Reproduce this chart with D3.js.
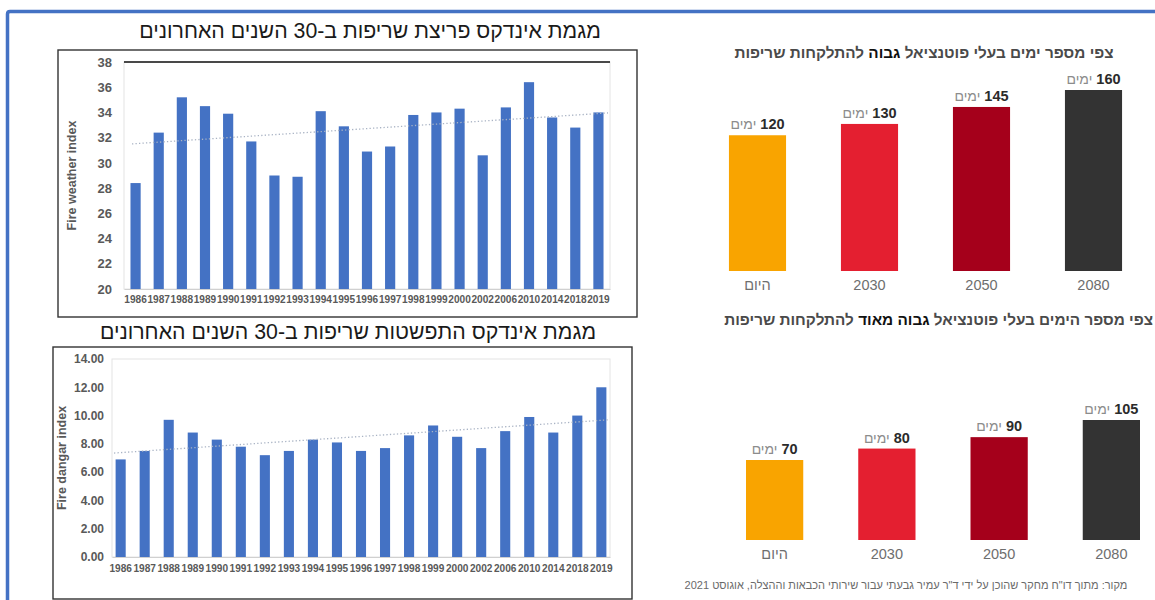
<!DOCTYPE html>
<html>
<head>
<meta charset="utf-8">
<script src="https://cdn.jsdelivr.net/npm/d3@7"></script>
<style>
  html, body { margin: 0; padding: 0; background: #fff; }
  svg { display: block; }
</style>
</head>
<body>
<svg id="board" width="1155" height="600"></svg>
<script>
// ---- data -------------------------------------------------------------
const years = ['1986','1987','1988','1989','1990','1991','1992','1993','1994','1995','1996',
               '1997','1998','1999','2000','2002','2006','2010','2014','2018','2019'];
const fireWeatherIndex = [28.4,32.4,35.2,34.5,33.9,31.7,29.0,28.9,34.1,32.9,30.9,
                          31.3,33.8,34.0,34.3,30.6,34.4,36.4,33.6,32.8,34.0];
const fireDangerIndex  = [6.9,7.5,9.7,8.8,8.3,7.8,7.2,7.5,8.3,8.1,7.5,
                          7.7,8.6,9.3,8.5,7.7,8.9,9.9,8.8,10.0,12.0];
const weatherTicks = [20,22,24,26,28,30,32,34,36,38];
const dangerTicks  = [0,2,4,6,8,10,12,14];

const scenarios    = ['היום','2030','2050','2080'];
const highDays     = [120,130,145,160];
const veryHighDays = [70,80,90,105];
const daysWord     = 'ימים';
const scenarioColors = ['#F9A400','#E41F30','#A5001B','#333333'];

// ---- setup ------------------------------------------------------------
const svg = d3.select('#board');
const HEB = "'Liberation Sans', Arial, 'DejaVu Sans', sans-serif";

// blue page frame (top and left edges)
svg.append('path')
  .attr('d', 'M7.5,600 V14 Q7.5,11.5 10,11.5 H1155')
  .attr('fill', 'none').attr('stroke', '#4472C4').attr('stroke-width', 3.5);

function linearFit(vals) {
  const n = vals.length, mx = (n - 1) / 2, my = d3.mean(vals);
  let sxy = 0, sxx = 0;
  vals.forEach((v, i) => { sxy += (i - mx) * (v - my); sxx += (i - mx) * (i - mx); });
  const b = sxy / sxx;
  return i => my + b * (i - mx);
}

// ---- yearly index column chart ---------------------------------------
function yearChart(o) {
  const g = svg.append('g');
  g.append('rect').attr('x', o.box[0]).attr('y', o.box[1])
    .attr('width', o.box[2] - o.box[0]).attr('height', o.box[3] - o.box[1])
    .attr('fill', '#fff').attr('stroke', '#333').attr('stroke-width', 1.4);

  g.append('text').attr('x', o.titleX).attr('y', o.titleY)
    .attr('text-anchor', 'middle').attr('direction', 'rtl')
    .attr('font-family', HEB).attr('font-size', 21.3).attr('fill', '#1a1a1a')
    .text(o.title);

  const x = d3.scaleBand().domain(years).range([o.plot[0], o.plot[1]])
    .paddingInner(o.padInner).paddingOuter(o.padOuter);
  const y = d3.scaleLinear().domain(o.domain).range([o.plot[3], o.plot[2]]);

  // plot area outline
  g.append('rect').attr('x', o.plot[0]).attr('y', o.plot[2])
    .attr('width', o.plot[1] - o.plot[0]).attr('height', o.plot[3] - o.plot[2])
    .attr('fill', 'none').attr('stroke', '#e4e4e4').attr('stroke-width', 1);
  if (o.darkTop) {
    g.append('line').attr('x1', o.plot[0]).attr('x2', o.plot[1])
      .attr('y1', o.plot[2]).attr('y2', o.plot[2])
      .attr('stroke', '#111').attr('stroke-width', 1.5);
  }

  g.selectAll('rect.bar').data(o.values).join('rect').attr('class', 'bar')
    .attr('x', (d, i) => x(years[i])).attr('width', x.bandwidth())
    .attr('y', d => y(d)).attr('height', d => y(o.domain[0]) - y(d))
    .attr('fill', '#4472C4');

  // x axis with condensed year labels
  const xa = g.append('g').attr('transform', `translate(0,${o.plot[3]})`)
    .call(d3.axisBottom(x).tickSize(0).tickPadding(o.xPad));
  xa.select('.domain').attr('stroke', '#d0d0d0');
  xa.selectAll('text').attr('font-family', HEB).attr('font-size', 11.5)
    .attr('font-weight', 'bold').attr('fill', '#595959')
    .attr('transform', 'scale(0.88,1)');

  // y axis
  const ya = g.append('g').attr('transform', `translate(${o.plot[0]},0)`)
    .call(d3.axisLeft(y).tickValues(o.ticks).tickSize(0).tickPadding(o.yPad)
      .tickFormat(o.fmt));
  ya.select('.domain').remove();
  ya.selectAll('text').attr('font-family', HEB).attr('font-size', o.yFont)
    .attr('font-weight', 'bold').attr('fill', '#595959');

  g.append('text')
    .attr('transform', `translate(${o.axisTitleX},${(o.plot[2] + o.plot[3]) / 2}) rotate(-90)`)
    .attr('text-anchor', 'middle').attr('dy', '0.35em')
    .attr('font-family', HEB).attr('font-size', 12.5).attr('font-weight', 'bold')
    .attr('fill', '#595959').text(o.axisTitle);

  // dotted linear trend
  const fit = linearFit(o.values);
  const c0 = x(years[0]) + x.bandwidth() / 2, step = x.step();
  const px0 = o.plot[0] + o.trendInset, px1 = o.plot[1] - 2;
  const toIdx = px => (px - c0) / step;
  g.append('line')
    .attr('x1', px0).attr('y1', y(fit(toIdx(px0))))
    .attr('x2', px1).attr('y2', y(fit(toIdx(px1))))
    .attr('stroke', '#a9b3c4').attr('stroke-width', 1.3)
    .attr('stroke-dasharray', '1.3 2.2');
}

yearChart({
  box: [58, 50, 637, 317], plot: [124, 610, 62, 289],
  title: 'מגמת אינדקס פריצת שריפות ב-30 השנים האחרונים', titleX: 370, titleY: 38,
  values: fireWeatherIndex, domain: [20, 38], ticks: weatherTicks, fmt: d3.format('d'),
  padInner: 0.56, padOuter: 0.28, xPad: 6, yPad: 12, yFont: 13,
  axisTitle: 'Fire weather index', axisTitleX: 72, darkTop: true, trendInset: 8
});

yearChart({
  box: [53, 347, 632, 599], plot: [112, 610, 359, 557],
  title: 'מגמת אינדקס התפשטות שריפות ב-30 השנים האחרונים', titleX: 348, titleY: 339,
  values: fireDangerIndex, domain: [0, 14], ticks: dangerTicks, fmt: d3.format('.2f'),
  padInner: 0.58, padOuter: 0.15, xPad: 7, yPad: 8, yFont: 12,
  axisTitle: 'Fire dangar index', axisTitleX: 62, darkTop: false, trendInset: 2
});

// ---- projected fire-danger days ----------------------------------------
function daysChart(o) {
  const g = svg.append('g');
  const t = g.append('text').attr('y', o.titleY).attr('direction', 'rtl')
    .attr('text-anchor', 'middle')
    .attr('font-family', HEB).attr('font-size', o.titleSize).attr('font-weight', 'bold')
    .attr('fill', '#4a4a4a');
  o.titleParts.forEach(p => {
    t.append('tspan').attr('fill', p.strong ? '#111' : '#4a4a4a').text(p.text);
  });
  const tw = t.node().getComputedTextLength();
  t.attr('x', o.titleCenter != null ? o.titleCenter : o.titleRight - tw / 2);

  const x = d3.scaleBand().domain(scenarios).range(o.xRange)
    .paddingInner(0.49).paddingOuter(0.245);
  const y = d3.scaleLinear().domain([0, o.yMax]).range([o.base, o.yTop]);

  g.selectAll('rect.bar').data(o.values).join('rect').attr('class', 'bar')
    .attr('x', (d, i) => x(scenarios[i])).attr('width', x.bandwidth())
    .attr('y', d => y(d)).attr('height', d => o.base - y(d))
    .attr('fill', (d, i) => scenarioColors[i]);

  // value labels: bold number on the right, the word for days to its left
  o.values.forEach((v, i) => {
    const cx = x(scenarios[i]) + x.bandwidth() / 2;
    const ty = y(v) - 6;
    const num = g.append('text').attr('y', ty).attr('font-family', HEB)
      .attr('font-size', 14.5).attr('font-weight', 'bold').attr('fill', '#2b2b2b').text(v);
    const word = g.append('text').attr('y', ty).attr('direction', 'rtl')
      .attr('font-family', HEB).attr('font-size', 14).attr('fill', '#8c8c8c').text(daysWord);
    const wn = num.node().getComputedTextLength();
    const ww = word.node().getComputedTextLength();
    const gap = 4, left = cx - (wn + ww + gap) / 2;
    word.attr('text-anchor', 'middle').attr('x', left + ww / 2);
    num.attr('text-anchor', 'start').attr('x', left + ww + gap);
  });

  g.selectAll('text.cat').data(scenarios).join('text').attr('class', 'cat')
    .attr('x', d => x(d) + x.bandwidth() / 2).attr('y', o.base + 19)
    .attr('text-anchor', 'middle').attr('direction', 'rtl')
    .attr('font-family', HEB).attr('font-size', 14.5).attr('fill', '#6e6e6e')
    .text(d => d);
}

daysChart({
  titleParts: [{ text: 'צפי מספר ימים בעלי פוטנציאל ' }, { text: 'גבוה', strong: true },
               { text: ' להתלקחות שריפות' }],
  titleY: 58, titleCenter: 924, titleSize: 15.3,
  values: highDays, yMax: 160, base: 271, yTop: 90, xRange: [701.5, 1149.5]
});

daysChart({
  titleParts: [{ text: 'צפי מספר הימים בעלי פוטנציאל ' }, { text: 'גבוה מאוד', strong: true },
               { text: ' להתלקחות שריפות' }],
  titleY: 325, titleRight: 1153, titleSize: 15.3,
  values: veryHighDays, yMax: 105, base: 540, yTop: 420, xRange: [718.5, 1167.5]
});

svg.append('text').attr('x', 906).attr('y', 589)
  .attr('text-anchor', 'middle').attr('direction', 'rtl')
  .attr('font-family', HEB).attr('font-size', 11).attr('fill', '#6a6a6a')
  .text('מקור: מתוך דו"ח מחקר שהוכן על ידי ד"ר עמיר גבעתי עבור שירותי הכבאות וההצלה, אוגוסט 2021');
</script>
</body>
</html>
